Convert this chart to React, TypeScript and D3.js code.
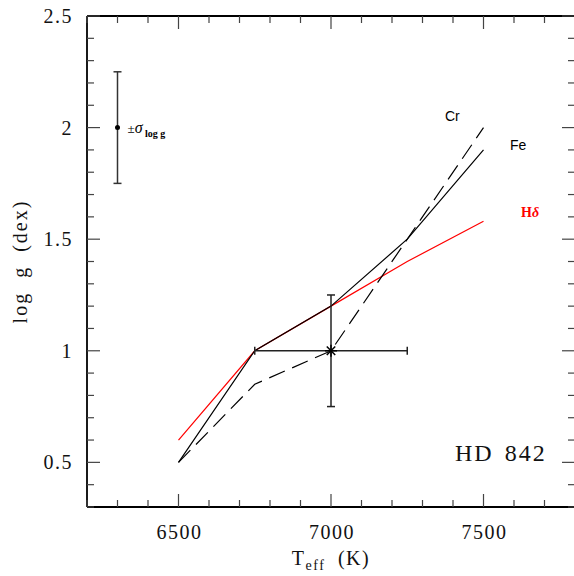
import React from "react";
import * as d3 from "d3";

const temps = [6500, 6750, 7000, 7250, 7500];
const feLogg = [0.5, 1.0, 1.2, 1.5, 1.9];
const hdLogg = [0.6, 1.0, 1.2, 1.4, 1.58];
const crTemps = [6500, 6750, 7000, 7500];
const crLogg = [0.5, 0.85, 1.0, 2.0];

const xMajor = [6500, 7000, 7500];
const yMajor = [0.5, 1, 1.5, 2, 2.5];

const starPoint = { t: 7000, g: 1.0, dt: 250, dg: 0.25 };
const sigmaPoint = { t: 6300, g: 2.0, dg: 0.25 };

const W = 574;
const H = 576;
const M = { left: 87, right: 575, top: 16, bottom: 507 };

export default function App() {
  const x = d3.scaleLinear().domain([6200, 7800]).range([M.left, M.right]);
  const y = d3.scaleLinear().domain([0.3, 2.5]).range([M.bottom, M.top]);

  const line = d3
    .line<[number, number]>()
    .x((d) => x(d[0]))
    .y((d) => y(d[1]));

  const xMinor = d3.range(6200, 7801, 100).filter((v) => v % 500 !== 0);
  const yMinor = d3.range(3, 26).map((v) => v / 10).filter((v) => Math.round(v * 10) % 5 !== 0);

  const majL = 13;
  const minL = 7;
  const serif = "'Liberation Serif', 'DejaVu Serif', serif";
  const sans = "'Liberation Sans', Arial, sans-serif";

  const sx = x(starPoint.t);
  const sy = y(starPoint.g);
  const starR = 6;

  return (
    <svg
      width={W}
      height={H}
      style={{ position: "absolute", left: 0, top: 0, background: "#fff" }}
    >
      {/* frame */}
      <line x1={M.left} x2={M.right} y1={M.top} y2={M.top} stroke="#000" strokeWidth={1.8} />
      <line x1={M.left} x2={M.right} y1={M.bottom} y2={M.bottom} stroke="#000" strokeWidth={2.2} />
      <line x1={M.left} x2={M.left} y1={M.top} y2={M.bottom} stroke="#000" strokeWidth={1.8} />
      <line x1={M.right} x2={M.right} y1={M.top} y2={M.bottom} stroke="#000" strokeWidth={1.8} />

      {/* x ticks */}
      {xMajor.map((v) => (
        <g key={"xm" + v}>
          <line x1={x(v)} x2={x(v)} y1={M.bottom} y2={M.bottom - majL} stroke="#444" strokeWidth={1.2} />
          <line x1={x(v)} x2={x(v)} y1={M.top} y2={M.top + majL} stroke="#444" strokeWidth={1.2} />
          <text x={x(v) + 1} y={M.bottom + 32} textAnchor="middle" fontFamily={serif} fontSize={20} letterSpacing={1.5} fill="#111">
            {v}
          </text>
        </g>
      ))}
      {xMinor.map((v) => (
        <g key={"xn" + v}>
          <line x1={x(v)} x2={x(v)} y1={M.bottom} y2={M.bottom - minL} stroke="#444" strokeWidth={1.2} />
          <line x1={x(v)} x2={x(v)} y1={M.top} y2={M.top + minL} stroke="#444" strokeWidth={1.2} />
        </g>
      ))}

      {/* y ticks */}
      {yMajor.map((v) => (
        <g key={"ym" + v}>
          <line x1={M.left} x2={M.left + majL} y1={y(v)} y2={y(v)} stroke="#444" strokeWidth={1.2} />
          <line x1={M.right} x2={M.right - majL} y1={y(v)} y2={y(v)} stroke="#444" strokeWidth={1.2} />
          <text x={M.left - 14} y={y(v) + 7} textAnchor="end" fontFamily={serif} fontSize={20} letterSpacing={1.5} fill="#111">
            {v}
          </text>
        </g>
      ))}
      {yMinor.map((v) => (
        <g key={"yn" + v}>
          <line x1={M.left} x2={M.left + minL} y1={y(v)} y2={y(v)} stroke="#444" strokeWidth={1.2} />
          <line x1={M.right} x2={M.right - minL} y1={y(v)} y2={y(v)} stroke="#444" strokeWidth={1.2} />
        </g>
      ))}

      {/* axis titles */}
      <text x={331} y={565} textAnchor="middle" fontFamily={serif} fontSize={20} letterSpacing={1.5} wordSpacing={6} fill="#111">
        T
        <tspan fontSize={14} dy={5}>eff</tspan>
        <tspan dy={-5}> (K)</tspan>
      </text>
      <text
        transform={`translate(27, ${(M.top + M.bottom) / 2}) rotate(-90)`}
        textAnchor="middle"
        fontFamily={serif}
        fontSize={20}
        letterSpacing={2}
        wordSpacing={7}
        fill="#111"
      >
        log g (dex)
      </text>

      {/* series */}
      <path d={line(temps.map((t, i) => [t, hdLogg[i]]) as [number, number][]) || ""} fill="none" stroke="#ff0000" strokeWidth={1.2} />
      <path d={line(temps.map((t, i) => [t, feLogg[i]]) as [number, number][]) || ""} fill="none" stroke="#000" strokeWidth={1.2} />
      <path
        d={line(crTemps.map((t, i) => [t, crLogg[i]]) as [number, number][]) || ""}
        fill="none"
        stroke="#000"
        strokeWidth={1.2}
        strokeDasharray="17,8"
      />

      {/* error cross */}
      <g stroke="#222" strokeWidth={1.5}>
        <line x1={x(starPoint.t - starPoint.dt)} x2={x(starPoint.t + starPoint.dt)} y1={sy} y2={sy} />
        <line x1={x(starPoint.t - starPoint.dt)} x2={x(starPoint.t - starPoint.dt)} y1={sy - 4} y2={sy + 4} />
        <line x1={x(starPoint.t + starPoint.dt)} x2={x(starPoint.t + starPoint.dt)} y1={sy - 4} y2={sy + 4} />
        <line x1={sx} x2={sx} y1={y(starPoint.g + starPoint.dg)} y2={y(starPoint.g - starPoint.dg)} />
        <line x1={sx - 4} x2={sx + 4} y1={y(starPoint.g + starPoint.dg)} y2={y(starPoint.g + starPoint.dg)} />
        <line x1={sx - 4} x2={sx + 4} y1={y(starPoint.g - starPoint.dg)} y2={y(starPoint.g - starPoint.dg)} />
      </g>
      <g stroke="#000" strokeWidth={1.5}>
        {[0, 45, 90, 135].map((a) => {
          const r = (a * Math.PI) / 180;
          return (
            <line
              key={a}
              x1={sx - starR * Math.cos(r)}
              x2={sx + starR * Math.cos(r)}
              y1={sy - starR * Math.sin(r)}
              y2={sy + starR * Math.sin(r)}
            />
          );
        })}
      </g>

      {/* sigma error bar */}
      <g stroke="#333" strokeWidth={1.5}>
        <line x1={x(sigmaPoint.t)} x2={x(sigmaPoint.t)} y1={y(sigmaPoint.g + sigmaPoint.dg)} y2={y(sigmaPoint.g - sigmaPoint.dg)} />
        <line x1={x(sigmaPoint.t) - 4} x2={x(sigmaPoint.t) + 4} y1={y(sigmaPoint.g + sigmaPoint.dg)} y2={y(sigmaPoint.g + sigmaPoint.dg)} />
        <line x1={x(sigmaPoint.t) - 4} x2={x(sigmaPoint.t) + 4} y1={y(sigmaPoint.g - sigmaPoint.dg)} y2={y(sigmaPoint.g - sigmaPoint.dg)} />
      </g>
      <circle cx={x(sigmaPoint.t)} cy={y(sigmaPoint.g)} r={2.5} fill="#000" />
      <text x={x(sigmaPoint.t) + 10} y={y(sigmaPoint.g) + 5} fontFamily={serif} fontSize={13} fill="#000">
        ±
        <tspan fontStyle="italic" fontSize={16}>σ</tspan>
        <tspan fontSize={10} fontWeight="bold" dy={4}> log g</tspan>
      </text>

      {/* series labels */}
      <text x={445} y={121} fontFamily={sans} fontSize={14} fill="#000">Cr</text>
      <text x={510} y={150} fontFamily={sans} fontSize={14} fill="#000">Fe</text>
      <text x={521} y={217} fontFamily={serif} fontSize={14} fontWeight="bold" fill="#ff0000">
        H<tspan fontStyle="italic">δ</tspan>
      </text>

      {/* star name */}
      <text x={455} y={461} fontFamily={serif} fontSize={24} fill="#111" letterSpacing={2} wordSpacing={3}>
        HD 842
      </text>
    </svg>
  );
}
